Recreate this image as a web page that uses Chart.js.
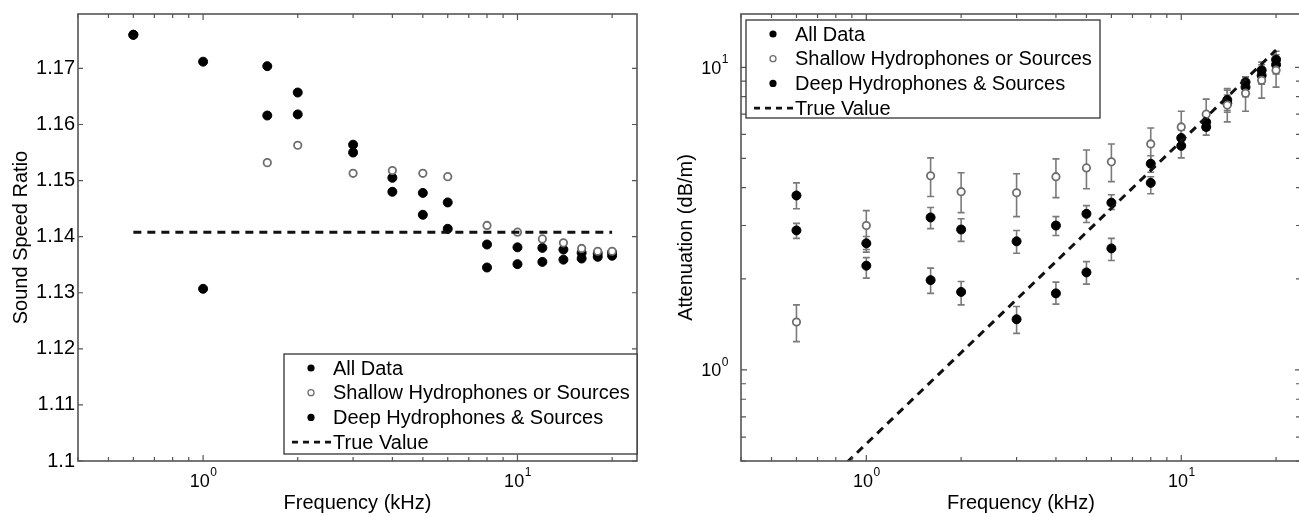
<!doctype html>
<html>
<head>
<meta charset="utf-8">
<script src="https://cdn.jsdelivr.net/npm/chart.js@4"></script>
<style>
  html, body { margin: 0; padding: 0; background: #fff; overflow: hidden; }
  #wrap { position: relative; width: 1299px; height: 516px; overflow: hidden; }
  canvas { position: absolute; top: 0; }
  #speed { left: 0; }
  #atten { left: 650px; }
</style>
</head>
<body>
<div id="wrap">
  <canvas id="speed" width="650" height="516"></canvas>
  <canvas id="atten" width="660" height="516"></canvas>
</div>
<script>
const freqs = [0.6, 1, 1.6, 2, 3, 4, 5, 6, 8, 10, 12, 14, 16, 18, 20];

// sound speed ratio
const ratioAll     = [1.1760, 1.1712, 1.1616, 1.1618, 1.1550, 1.1505, 1.1478, 1.1461, 1.1386, 1.1381, 1.1380, 1.1377, 1.1371, 1.1370, 1.1372];
const ratioShallow = [null,   null,   1.1532, 1.1563, 1.1513, 1.1518, 1.1513, 1.1507, 1.1420, 1.1408, 1.1396, 1.1389, 1.1379, 1.1374, 1.1374];
const ratioDeep    = [1.1760, 1.1307, 1.1704, 1.1657, 1.1564, 1.1480, 1.1439, 1.1414, 1.1345, 1.1351, 1.1355, 1.1359, 1.1361, 1.1364, 1.1366];
const ratioTrueFreq = [0.6, 20];
const ratioTrue     = [1.1408, 1.1408];

// attenuation (dB/m) with error bar limits
const attAll     = [2.89, 2.62, 3.19, 2.91, 2.66, 3.00, 3.28, 3.57, 4.80, 5.84, 6.59, 7.60, 8.60, 9.40, 10.2];
const attAllLo   = [2.72, 2.45, 2.93, 2.66, 2.43, 2.78, 3.07, 3.39, 4.50, 5.50, 6.20, 7.10, 8.00, 8.80, 9.50];
const attAllHi   = [3.05, 2.76, 3.44, 3.16, 2.89, 3.21, 3.49, 3.79, 5.10, 6.20, 7.00, 8.10, 9.10, 9.90, 10.8];
const attShallow   = [1.44, 3.00, 4.38, 3.88, 3.85, 4.35, 4.65, 4.87, 5.58, 6.35, 7.00, 7.50, 8.21, 9.06, 9.78];
const attShallowLo = [1.24, 2.50, 3.74, 3.31, 3.21, 3.71, 3.97, 4.19, 4.90, 5.50, 6.20, 6.60, 7.16, 7.91, 8.60];
const attShallowHi = [1.64, 3.36, 5.02, 4.48, 4.45, 4.98, 5.33, 5.58, 6.30, 7.16, 7.85, 8.40, 9.30, 10.2, 11.0];
const attDeep   = [3.77, 2.21, 1.98, 1.81, 1.47, 1.79, 2.10, 2.52, 4.15, 5.50, 6.35, 7.80, 8.93, 9.78, 10.6];
const attDeepLo = [3.41, 2.01, 1.79, 1.64, 1.32, 1.65, 1.92, 2.30, 3.82, 5.02, 5.97, 7.20, 8.40, 9.20, 9.90];
const attDeepHi = [4.15, 2.35, 2.17, 1.96, 1.62, 1.95, 2.28, 2.72, 4.35, 5.80, 6.60, 8.50, 9.30, 10.4, 11.3];
const attTrueFreq = [0.6, 20];
const attTrue     = [0.342, 11.4];

const names = ['All Data', 'Shallow Hydrophones or Sources', 'Deep Hydrophones & Sources', 'True Value'];

const FONT = "'Liberation Sans', Arial, sans-serif";
Chart.defaults.font.family = FONT;
Chart.defaults.font.size = 20;
Chart.defaults.color = '#000';

const points = (xs, ys, lo, hi) => xs
  .map((x, i) => ({x, y: ys[i], lo: lo ? lo[i] : null, hi: hi ? hi[i] : null}))
  .filter(p => p.y != null);

const filled = {pointRadius: 4.5, pointHoverRadius: 4.5, pointBorderWidth: 1,
  pointBackgroundColor: '#000', pointBorderColor: '#000', showLine: false};
const open = {pointRadius: 3.7, pointHoverRadius: 3.7, pointBorderWidth: 1.8,
  pointBackgroundColor: '#fff', pointBorderColor: '#6e6e6e', showLine: false};
const dashed = {showLine: true, borderDash: [8, 6], borderWidth: 3, borderColor: '#111',
  pointRadius: 0, pointHoverRadius: 0, fill: false};

const isDecade = (v) => Math.abs(Math.log10(v) - Math.round(Math.log10(v))) < 1e-9;

// keep only 1..9 x 10^n ticks on log axes
const keepDecadeTicks = (scale) => {
  scale.ticks = scale.ticks.filter(t => {
    const m = t.value / Math.pow(10, Math.floor(Math.log10(t.value) + 1e-9));
    return Math.abs(m - Math.round(m)) < 1e-6;
  });
};

// the layout padding decides where the plot box sits
const fixSize = (prop, size) => (s) => {
  s[prop] = size;
  s.paddingTop = s.paddingBottom = s.paddingLeft = s.paddingRight = 0;
};

// error bars, drawn under the markers
const errorBars = {
  id: 'errorBars',
  beforeDatasetsDraw(chart) {
    const {ctx, scales: {x, y}} = chart;
    ctx.save();
    ctx.strokeStyle = '#7a7a7a';
    ctx.lineWidth = 1.6;
    chart.data.datasets.forEach(ds => ds.data.forEach(p => {
      if (p.lo == null) return;
      const px = x.getPixelForValue(p.x);
      const lo = y.getPixelForValue(p.lo), hi = y.getPixelForValue(p.hi);
      ctx.beginPath();
      ctx.moveTo(px, lo); ctx.lineTo(px, hi);
      ctx.moveTo(px - 3.5, lo); ctx.lineTo(px + 3.5, lo);
      ctx.moveTo(px - 3.5, hi); ctx.lineTo(px + 3.5, hi);
      ctx.stroke();
    }));
    ctx.restore();
  }
};

// axes box with inward ticks on all four sides
const frame = {
  id: 'frame',
  afterDatasetsDraw(chart) {
    const {ctx, chartArea: a, scales: {x, y}} = chart;
    ctx.save();
    ctx.strokeStyle = '#555';
    ctx.lineWidth = 1.6;
    ctx.strokeRect(a.left, a.top, a.right - a.left, a.bottom - a.top);
    ctx.lineWidth = 1.2;
    ctx.beginPath();
    x.ticks.forEach(t => {
      const px = x.getPixelForValue(t.value), len = t.major ? 6 : 4;
      ctx.moveTo(px, a.bottom); ctx.lineTo(px, a.bottom - len);
      ctx.moveTo(px, a.top); ctx.lineTo(px, a.top + len);
    });
    y.ticks.forEach(t => {
      const py = y.getPixelForValue(t.value), len = t.major ? 6 : 5;
      ctx.moveTo(a.left, py); ctx.lineTo(a.left + len, py);
      ctx.moveTo(a.right, py); ctx.lineTo(a.right - len, py);
    });
    ctx.stroke();
    ctx.restore();
  }
};

// 10^n labels with a raised exponent on the log axes
function drawPower(ctx, n, x, y, align) {
  const base = '10', exp = String(n);
  ctx.font = '18px ' + FONT;
  const wb = ctx.measureText(base).width;
  ctx.font = '12px ' + FONT;
  const we = ctx.measureText(exp).width;
  const left = align === 'right' ? x - wb - we : x - (wb + we) / 2;
  ctx.font = '18px ' + FONT;
  ctx.fillText(base, left, y + 6.5);
  ctx.font = '12px ' + FONT;
  ctx.fillText(exp, left + wb + 0.5, y - 4);
}

const powerLabels = {
  id: 'powerLabels',
  afterDraw(chart) {
    const {ctx, chartArea: a, scales} = chart;
    ctx.save();
    ctx.fillStyle = '#000';
    ctx.textAlign = 'left';
    ctx.textBaseline = 'alphabetic';
    const x = scales.x, y = scales.y;
    x.ticks.filter(t => isDecade(t.value)).forEach(t =>
      drawPower(ctx, Math.round(Math.log10(t.value)), x.getPixelForValue(t.value), a.bottom + 19, 'center'));
    if (y.type === 'logarithmic') {
      y.ticks.filter(t => isDecade(t.value)).forEach(t =>
        drawPower(ctx, Math.round(Math.log10(t.value)), a.left - 13, y.getPixelForValue(t.value), 'right'));
    }
    ctx.restore();
  }
};

// boxed legend inside the axes
const boxLegend = {
  id: 'boxLegend',
  afterDraw(chart, args, opts) {
    const {ctx, chartArea: a} = chart;
    const w = opts.width, h = opts.height;
    const x0 = opts.corner === 'bottom-right' ? a.right - w : a.left + opts.dx;
    const y0 = opts.corner === 'bottom-right' ? a.bottom - opts.dy - h : a.top + opts.dy;
    ctx.save();
    ctx.fillStyle = '#fff';
    ctx.fillRect(x0, y0, w, h);
    ctx.strokeStyle = '#333';
    ctx.lineWidth = 1.3;
    ctx.strokeRect(x0, y0, w, h);
    ctx.font = '20px ' + FONT;
    ctx.textBaseline = 'middle';
    chart.data.datasets.forEach((ds, i) => {
      const ry = y0 + 14 + i * 24.7;
      if (ds.showLine) {
        ctx.strokeStyle = ds.borderColor;
        ctx.lineWidth = 2.6;
        ctx.setLineDash([6, 5]);
        ctx.beginPath();
        ctx.moveTo(x0 + 8, ry); ctx.lineTo(x0 + 48, ry);
        ctx.stroke();
        ctx.setLineDash([]);
      } else {
        ctx.beginPath();
        if (ds.pointBackgroundColor === '#fff') {
          ctx.arc(x0 + 27, ry, 3, 0, Math.PI * 2);
          ctx.strokeStyle = ds.pointBorderColor;
          ctx.lineWidth = 1.3;
          ctx.stroke();
        } else {
          ctx.arc(x0 + 27, ry, 3.6, 0, Math.PI * 2);
          ctx.fillStyle = ds.pointBackgroundColor;
          ctx.fill();
        }
      }
      ctx.fillStyle = '#000';
      ctx.fillText(ds.label, x0 + 49, ry + 1);
    });
    ctx.restore();
  }
};

const freqAxis = () => ({
  type: 'logarithmic', position: 'bottom', min: 0.4, max: 24,
  grid: {display: false, drawTicks: false}, border: {display: false},
  afterBuildTicks: keepDecadeTicks,
  afterFit: fixSize('height', 55),
  ticks: {autoSkip: false, maxRotation: 0, padding: 5, callback: () => ''},
  title: {display: true, text: 'Frequency (kHz)', padding: {top: 0, bottom: 1}}
});

const baseOptions = {
  responsive: false, animation: false, devicePixelRatio: 1,
  plugins: {legend: {display: false}, tooltip: {enabled: false}}
};

new Chart(document.getElementById('speed'), {
  type: 'scatter',
  data: {
    datasets: [
      {label: names[0], data: points(freqs, ratioAll), order: 3, ...filled},
      {label: names[1], data: points(freqs, ratioShallow), order: 1, ...open},
      {label: names[2], data: points(freqs, ratioDeep), order: 2, ...filled},
      {label: names[3], data: points(ratioTrueFreq, ratioTrue), order: 0, ...dashed}
    ]
  },
  options: {
    ...baseOptions,
    layout: {padding: {top: 14, right: 13, bottom: 0, left: 0}},
    plugins: {...baseOptions.plugins,
      boxLegend: {corner: 'bottom-right', width: 353, height: 100, dx: 0, dy: 7}},
    scales: {
      x: freqAxis(),
      y: {
        type: 'linear', min: 1.1, max: 1.1797,
        grid: {display: false, drawTicks: false}, border: {display: false},
        afterFit: fixSize('width', 78),
        ticks: {stepSize: 0.01, includeBounds: false, padding: 3,
          callback: (v) => String(Math.round(v * 100) / 100)},
        title: {display: true, text: 'Sound Speed Ratio', padding: {top: 9, bottom: 0}}
      }
    }
  },
  plugins: [errorBars, frame, powerLabels, boxLegend]
});

new Chart(document.getElementById('atten'), {
  type: 'scatter',
  data: {
    datasets: [
      {label: names[0], data: points(freqs, attAll, attAllLo, attAllHi), order: 3, ...filled},
      {label: names[1], data: points(freqs, attShallow, attShallowLo, attShallowHi), order: 1, ...open},
      {label: names[2], data: points(freqs, attDeep, attDeepLo, attDeepHi), order: 2, ...filled},
      {label: names[3], data: points(attTrueFreq, attTrue), order: 0, ...dashed}
    ]
  },
  options: {
    ...baseOptions,
    layout: {padding: {top: 14, right: 9, bottom: 0, left: 0}},
    plugins: {...baseOptions.plugins,
      boxLegend: {corner: 'top-left', width: 354, height: 98, dx: 5, dy: 6}},
    scales: {
      x: freqAxis(),
      y: {
        type: 'logarithmic', min: 0.5, max: 15,
        grid: {display: false, drawTicks: false}, border: {display: false},
        afterBuildTicks: keepDecadeTicks,
        afterFit: fixSize('width', 91),
        ticks: {autoSkip: false, padding: 13, callback: () => ''},
        title: {display: true, text: 'Attenuation (dB/m)', padding: {top: 24, bottom: 0}}
      }
    }
  },
  plugins: [errorBars, frame, powerLabels, boxLegend]
});
</script>
</body>
</html>
